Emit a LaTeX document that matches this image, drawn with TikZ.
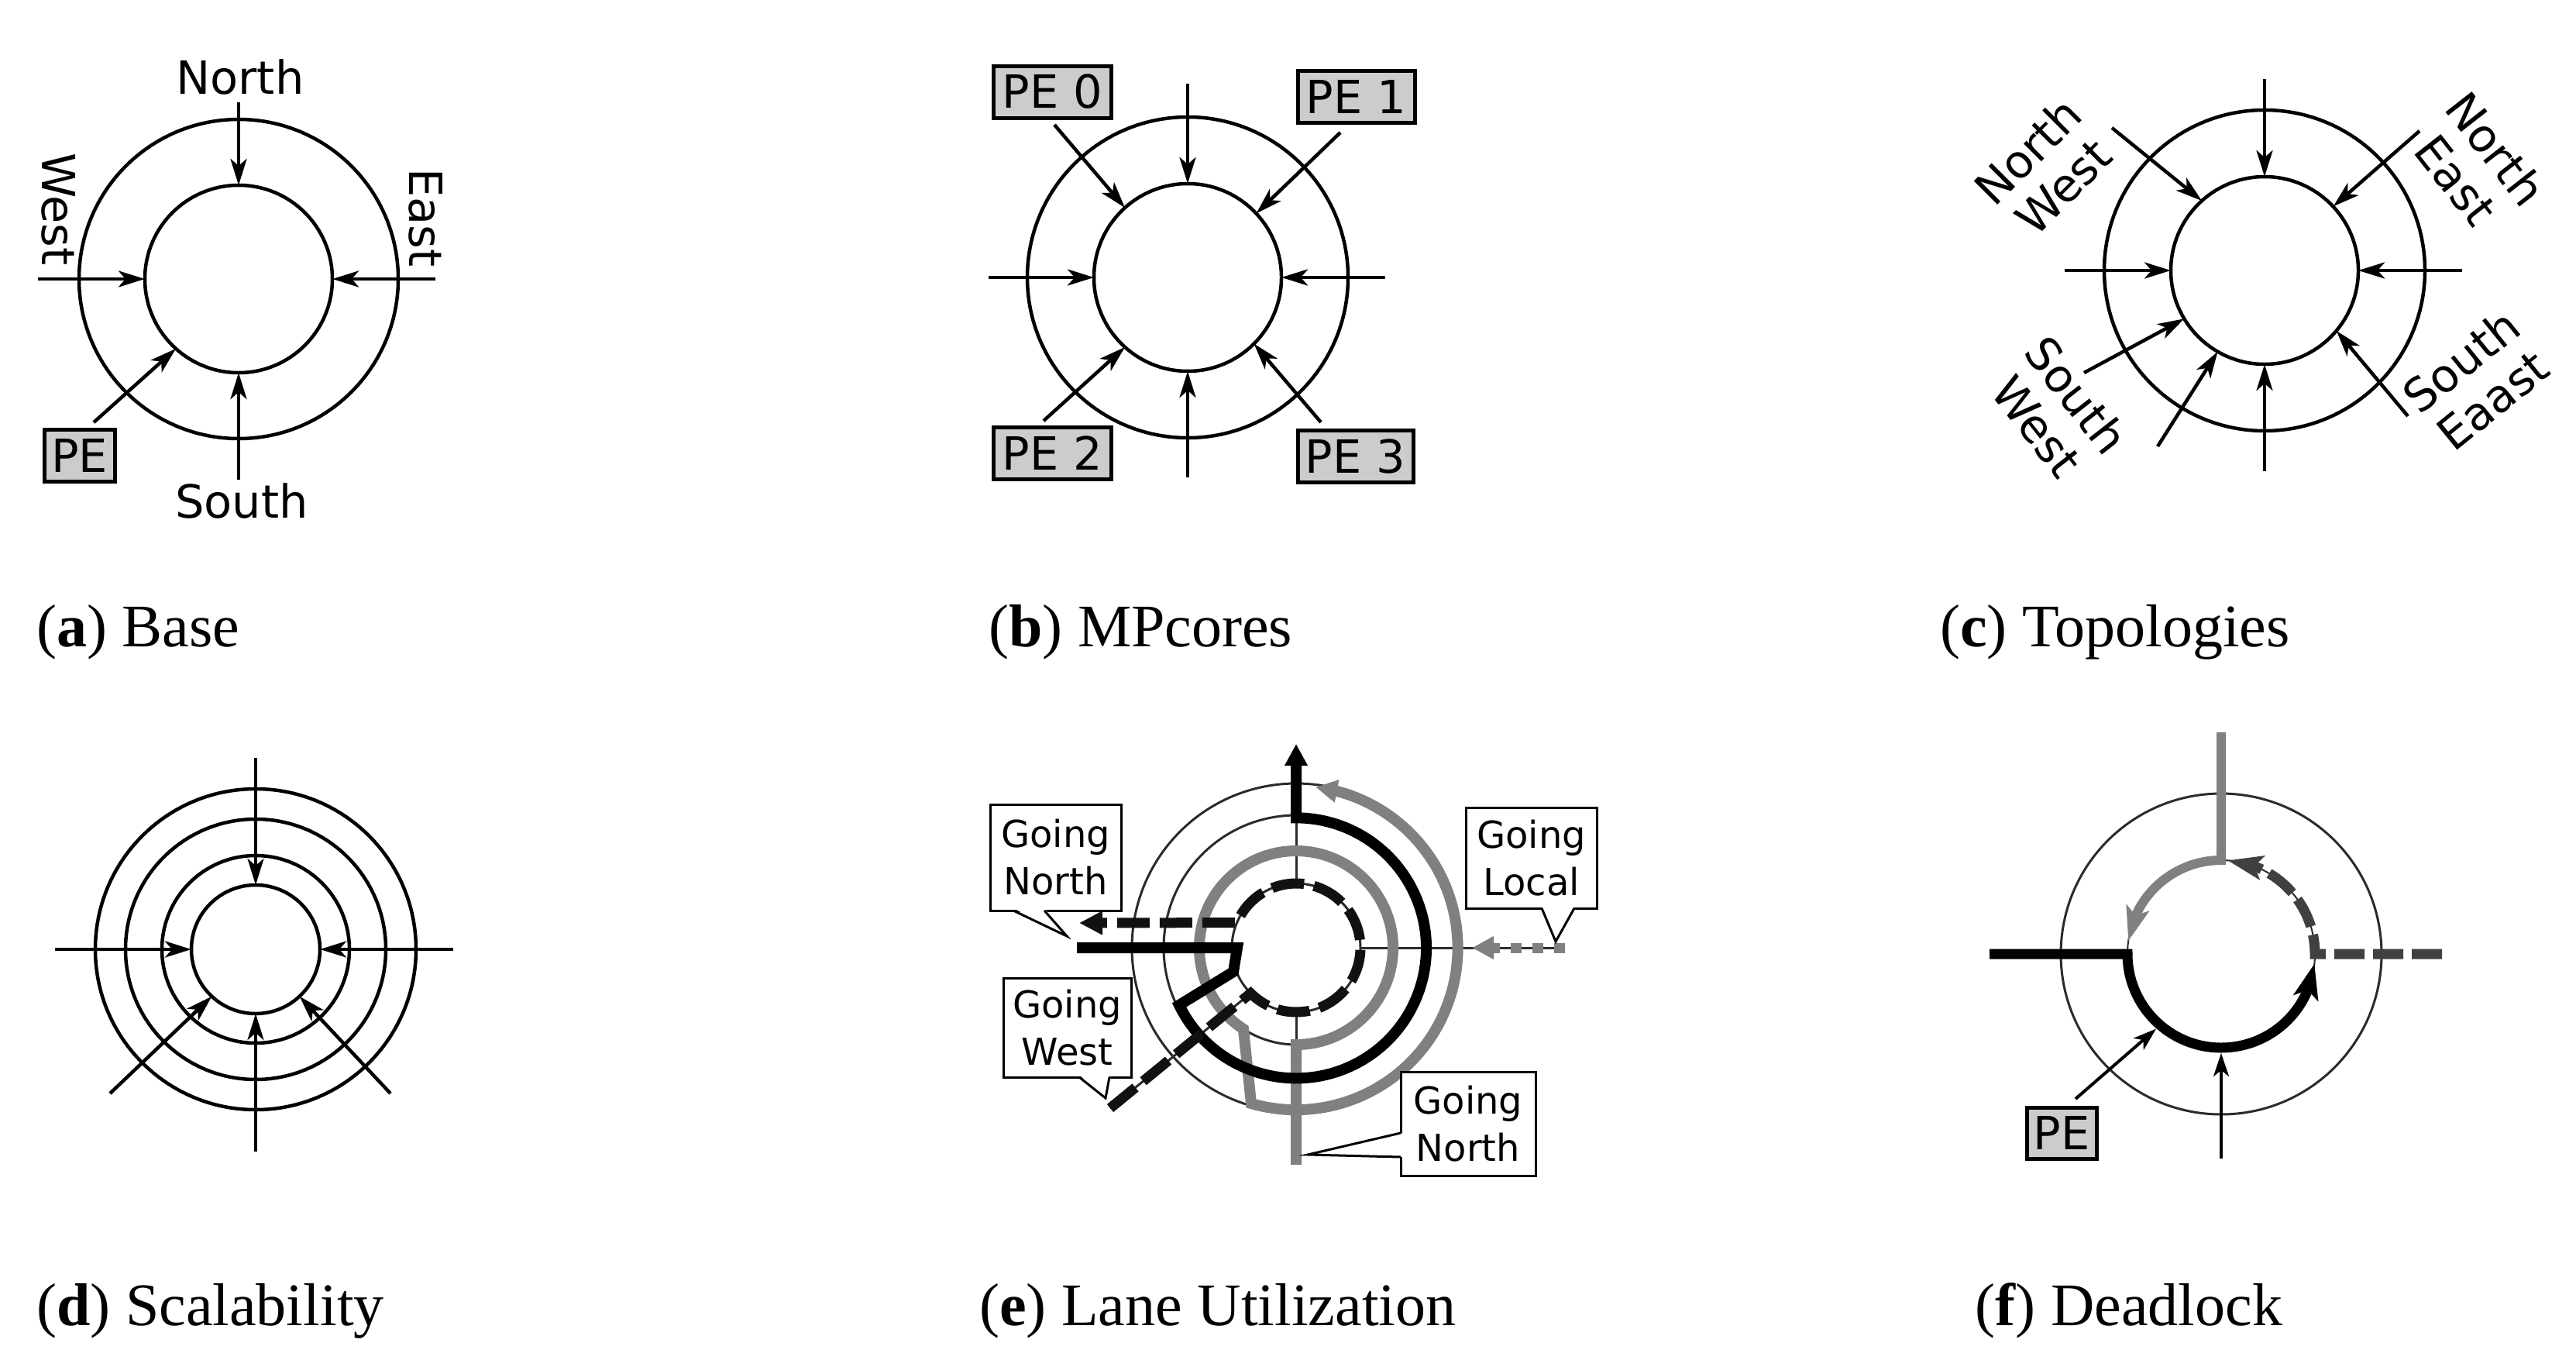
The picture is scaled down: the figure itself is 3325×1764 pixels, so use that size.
\documentclass[tikz,border=0pt]{standalone}
\usepackage{fontspec}
\setmainfont{Liberation Serif}
\newfontfamily\dvs{DejaVu Sans}
\usetikzlibrary{arrows.meta,bending,calc}
\definecolor{dg}{HTML}{2B2B2B}
\definecolor{mg}{HTML}{808080}
\definecolor{dd}{HTML}{404040}
\definecolor{pegray}{HTML}{CCCCCC}
\definecolor{bk}{HTML}{111111}
\begin{document}
\begin{tikzpicture}[x=1pt,y=-1pt,
  ring/.style={circle,draw,line width=4.5pt,inner sep=0pt,outer sep=0pt,minimum size=#1},
  ringT/.style={circle,draw=dg,line width=3pt,inner sep=0pt,outer sep=0pt,minimum size=#1},
  hid/.style={circle,inner sep=0pt,outer sep=0pt,minimum size=#1},
  thn/.style={draw=dg,line width=3pt},
  arr/.style={line width=4.5pt,-{Stealth[length=34pt,width=21pt,inset=9pt]}},
  farr/.style={line width=4pt,-{Stealth[length=30pt,width=20pt,inset=8pt]}},
  lab/.style={font=\dvs\fontsize{59}{65}\selectfont,inner sep=0pt},
  pe/.style={draw,line width=5pt,fill=pegray,font=\dvs\fontsize{59}{65}\selectfont,inner sep=0pt,minimum height=67pt,minimum width=#1},
  cbox/.style={draw,line width=3pt,fill=white,font=\dvs\fontsize{48}{61}\selectfont,align=center,inner sep=0pt,outer sep=0pt},
  capt/.style={font=\fontsize{78}{90}\selectfont,anchor=base west,inner sep=0pt}
]
\fill[white] (0,0) rectangle (3325,1764);
\useasboundingbox (0,0) rectangle (3325,1764);

% ---------------- (a) Base
\node[ring=412pt] (aO) at (308,360) {};
\node[ring=242pt] (aI) at (308,360) {};
\coordinate (aNs) at (308,132);
\coordinate (aSs) at (308,619);
\coordinate (aWs) at (49,360);
\coordinate (aEs) at (562,360);
\coordinate (aPs) at (121,545);
\draw[arr] (aNs) -- (aI.north);
\draw[arr] (aSs) -- (aI.south);
\draw[arr] (aWs) -- (aI.west);
\draw[arr] (aEs) -- (aI.east);
\draw[arr] (aPs) -- (aI.228);
\node[lab,anchor=base] (aN) at (310,121) {North};
\node[lab,anchor=base] (aS) at (312,668) {South};
\node[lab,rotate=-90] (aW) at (76,270) {West};
\node[lab,rotate=-90] (aE) at (550,281) {East};
\node[pe=91pt] (aPE) at (102.5,587.5) {PE};

% ---------------- (b) MPcores
\node[ring=414pt] (bO) at (1533,358) {};
\node[ring=242pt] (bI) at (1533,358) {};
\coordinate (bNs) at (1533,108);
\coordinate (bSs) at (1533,616);
\coordinate (bWs) at (1276,358);
\coordinate (bEs) at (1788,358);
\coordinate (bP0s) at (1361,161);
\coordinate (bP1s) at (1730,171);
\coordinate (bP2s) at (1347,543);
\coordinate (bP3s) at (1705,545);
\draw[arr] (bNs) -- (bI.north);
\draw[arr] (bSs) -- (bI.south);
\draw[arr] (bWs) -- (bI.west);
\draw[arr] (bEs) -- (bI.east);
\draw[arr] (bP0s) -- (bI.132);
\draw[arr] (bP1s) -- (bI.43);
\draw[arr] (bP2s) -- (bI.228);
\draw[arr] (bP3s) -- (bI.315);
\node[pe=152pt] (bPE0) at (1358,118.5) {PE 0};
\node[pe=151pt] (bPE1) at (1750.5,124.5) {PE 1};
\node[pe=152pt] (bPE2) at (1358,585) {PE 2};
\node[pe=149pt] (bPE3) at (1749.5,589) {PE 3};

% ---------------- (c) Topologies
\node[ring=414pt] (cO) at (2923,349) {};
\node[ring=242pt] (cI) at (2923,349) {};
\coordinate (cNs) at (2923,102);
\coordinate (cSs) at (2923,608);
\coordinate (cWs) at (2665,349);
\coordinate (cEs) at (3178,349);
\coordinate (cNWs) at (2726,165);
\coordinate (cNEs) at (3123,169);
\coordinate (cSW1s) at (2690,481);
\coordinate (cSW2s) at (2785,576);
\coordinate (cSEs) at (3108,537);
\draw[arr] (cNs) -- (cI.north);
\draw[arr] (cSs) -- (cI.south);
\draw[arr] (cWs) -- (cI.west);
\draw[arr] (cEs) -- (cI.east);
\draw[arr] (cNWs) -- (cI.132);
\draw[arr] (cNEs) -- (cI.43);
\draw[arr] (cSW1s) -- (cI.211);
\draw[arr] (cSW2s) -- (cI.240);
\draw[arr] (cSEs) -- (cI.320);
\node[lab,rotate=45,align=center] (cNW) at (2640,218) {North\\West};
\node[lab,rotate=-52,align=center] (cNE) at (3196,212) {North\\East};
\node[lab,rotate=-52,align=center] (cSW) at (2655,530) {South\\West};
\node[lab,rotate=39,align=center] (cSE) at (3197,491) {South\\Eaast};

% ---------------- (d) Scalability
\node[ring=414pt] (dR1) at (330,1225) {};
\node[ring=336pt] (dR2) at (330,1225) {};
\node[ring=242pt] (dR3) at (330,1225) {};
\node[ring=166pt] (dR4) at (330,1225) {};
\coordinate (dNs) at (330,978);
\coordinate (dSs) at (330,1486);
\coordinate (dWs) at (71,1225);
\coordinate (dEs) at (585,1225);
\coordinate (dSWs) at (142,1411);
\coordinate (dSEs) at (504,1411);
\draw[arr] (dNs) -- (dR4.north);
\draw[arr] (dSs) -- (dR4.south);
\draw[arr] (dWs) -- (dR4.west);
\draw[arr] (dEs) -- (dR4.east);
\draw[arr] (dSWs) -- (dR4.227);
\draw[arr] (dSEs) -- (dR4.313);

% ---------------- (e) Lane Utilization
\node[ringT=424pt] (eR1) at (1673,1223) {};
\node[ringT=342pt] (eR2) at (1673,1223) {};
\node[ringT=250pt] (eR3) at (1673,1223) {};
\node[ringT=166pt] (eR4) at (1673,1223) {};
\coordinate (eTop) at (1673,1000);
\coordinate (eLs) at (2020,1223);
\coordinate (eLt) at (1900,1223);
\coordinate (eWs) at (1433,1430);
\coordinate (eGs) at (1673,1503);
\coordinate (eBs) at (1390,1223);
\coordinate (eBt) at (1673,960);
\coordinate (eDt) at (1393,1191);
\draw[thn] (eR4.north) -- (eTop);
\draw[thn] (eR4.south) -- (eR3.south);
\draw[thn] (eR4.east) -- (eLs);
\draw[thn] (eR4.225) -- (eWs);
% gray path (going north from south)
\draw[draw=mg,line width=14pt,-{Triangle[length=28pt,width=28pt]}]
  (eGs) -- (eR3.south) arc[start angle=90,end angle=-237,radius=125]
  -- (1615,1424) arc[start angle=106,end angle=-83,radius=209];
% gray dotted (going local)
\draw[draw=mg,line width=13pt,dash pattern=on 14pt off 14pt,-{Triangle[length=28pt,width=28pt]}]
  (eLs) -- (eLt);
% black solid path
\draw[draw=black,line width=14pt,-{Triangle[length=28pt,width=28pt]}]
  (eBs) -- (1597,1223) -- (1592,1254) -- (1522,1297)
  arc[start angle=154,end angle=-90,radius=168] -- (eBt);
% black dashed path
\draw[draw=bk,line width=13pt,dash pattern=on 42pt off 13pt,-{Triangle[length=30pt,width=29pt]}]
  (eWs) -- (eR4.225) arc[start angle=135,end angle=-157,radius=83] -- (eDt);
% callouts
\node[cbox,minimum width=169pt,minimum height=137pt] (g1) at (1362.5,1106.5) {Going\\North};
\coordinate (g1t) at (1377,1208);
\fill[white] ($(g1.south west)+(30,-3)$) -- (g1t) -- ($(g1.south west)+(70,-3)$) -- cycle;
\draw[line width=3pt] ($(g1.south west)+(30,0)$) -- (g1t) -- ($(g1.south west)+(70,0)$);
\node[cbox,minimum width=169pt,minimum height=130pt] (g2) at (1976.5,1107) {Going\\Local};
\coordinate (g2t) at (2008,1215);
\fill[white] ($(g2.south west)+(98,-3)$) -- (g2t) -- ($(g2.south west)+(140,-3)$) -- cycle;
\draw[line width=3pt] ($(g2.south west)+(98,0)$) -- (g2t) -- ($(g2.south west)+(140,0)$);
\node[cbox,minimum width=165pt,minimum height=128pt] (g3) at (1377.5,1326) {Going\\West};
\coordinate (g3t) at (1427,1417);
\fill[white] ($(g3.south west)+(98,-3)$) -- (g3t) -- ($(g3.south west)+(137,-3)$) -- cycle;
\draw[line width=3pt] ($(g3.south west)+(98,0)$) -- (g3t) -- ($(g3.south west)+(137,0)$);
\node[cbox,minimum width=174pt,minimum height=134pt] (g4) at (1895,1450) {Going\\North};
\coordinate (g4t) at (1688,1490);
\fill[white] ($(g4.north west)+(3,79)$) -- (g4t) -- ($(g4.north west)+(3,110)$) -- cycle;
\draw[line width=3pt] ($(g4.north west)+(0,79)$) -- (g4t) -- ($(g4.north west)+(0,110)$);

% ---------------- (f) Deadlock
\node[ringT=414pt] (fO) at (2867,1231) {};
\node[circle,draw=dg,line width=2pt,inner sep=0pt,outer sep=0pt,minimum size=242pt] (fI) at (2867,1231) {};
\node[hid=256pt] (fT) at (2867,1231) {};
\coordinate (fLs) at (2568,1231);
\coordinate (fNs) at (2867,945);
\coordinate (fEs) at (3152,1231);
\coordinate (fSs) at (2867,1495);
\coordinate (fPs) at (2679,1418);
\draw[draw=black,line width=13pt,-{Stealth[length=45pt,width=32pt,inset=10pt]}]
  (fLs) -- (fI.west) arc[start angle=180,end angle=6,radius=121];
\draw[draw=mg,line width=12pt,-{Stealth[length=44pt,width=30pt,inset=10pt]}]
  (fNs) -- (fI.north) arc[start angle=-90,end angle=-172,radius=121];
\draw[draw=dd,line width=13pt,dash pattern=on 39pt off 11pt,-{Stealth[length=45pt,width=31pt,inset=10pt]}]
  (fEs) -- (fI.east) arc[start angle=0,end angle=-86,radius=121];
\draw[farr] (fSs) -- (fT.south);
\draw[farr] (fPs) -- (fT.229);
\node[pe=90pt,minimum height=66pt] (fPE) at (2661,1462) {PE};

% ---------------- captions
\node[capt] (capA) at (47,834) {(\textbf{a}) Base};
\node[capt] (capB) at (1276,834) {(\textbf{b}) MPcores};
\node[capt] (capC) at (2504,834) {(\textbf{c}) Topologies};
\node[capt] (capD) at (47,1710) {(\textbf{d}) Scalability};
\node[capt] (capE) at (1264,1710) {(\textbf{e}) Lane Utilization};
\node[capt] (capF) at (2549,1710) {(\textbf{f}) Deadlock};
\end{tikzpicture}
\end{document}
